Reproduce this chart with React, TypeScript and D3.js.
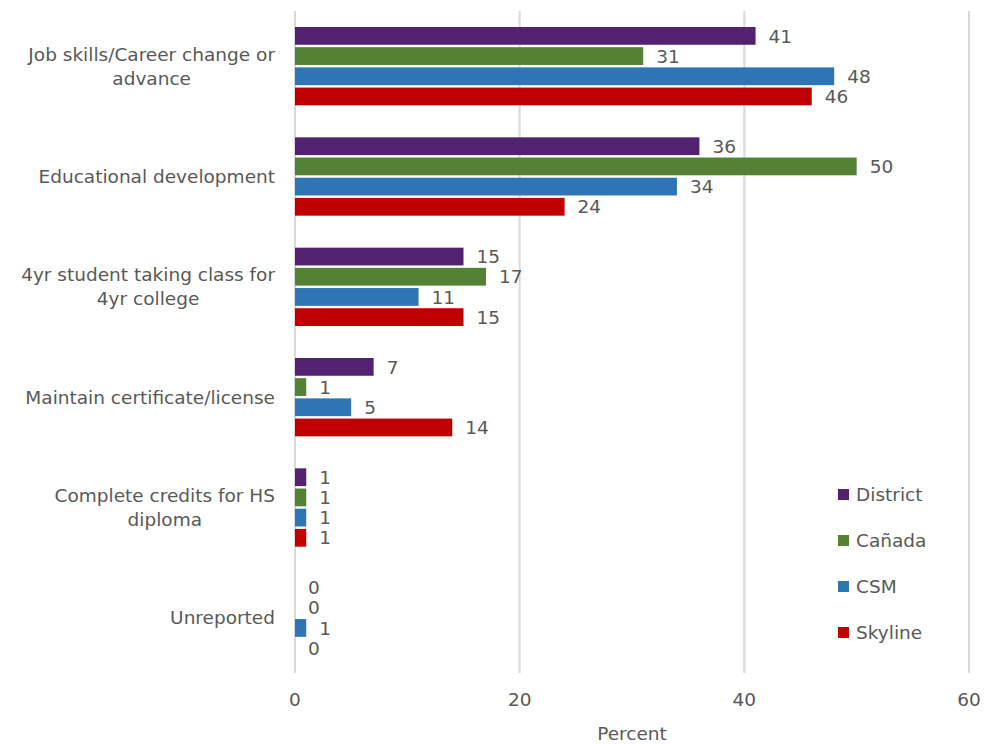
import React, { useEffect, useRef } from "react";
import * as d3 from "d3";

const categories = [
  "Job skills/Career change or advance",
  "Educational development",
  "4yr student taking class for 4yr college",
  "Maintain certificate/license",
  "Complete credits for HS diploma",
  "Unreported",
];
const categoryLines = [
  ["Job skills/Career change or", "advance"],
  ["Educational development"],
  ["4yr student taking class for", "4yr college"],
  ["Maintain certificate/license"],
  ["Complete credits for HS", "diploma"],
  ["Unreported"],
];
const seriesNames = ["District", "Cañada", "CSM", "Skyline"];
const seriesColors = ["#522270", "#548235", "#2E75B6", "#C00000"];
const district = [41, 36, 15, 7, 1, 0];
const canada = [31, 50, 17, 1, 1, 0];
const csm = [48, 34, 11, 5, 1, 1];
const skyline = [46, 24, 15, 14, 1, 0];
const xTicks = [0, 20, 40, 60];
const xTitle = "Percent";

const W = 984;
const H = 744;
const FONT = "'DejaVu Sans', sans-serif";
const FS = 18.5;
const TXT = "#595959";

export default function App() {
  const ref = useRef<SVGSVGElement>(null);
  useEffect(() => {
    const svg = d3.select(ref.current);
    svg.selectAll("*").remove();
    const series = [district, canada, csm, skyline];
    const left = 295, right = 969, top = 11, bottom = 673;
    const x = d3.scaleLinear().domain([0, 60]).range([left, right]);
    const y0 = d3.scaleBand<string>().domain(categories).range([top, bottom]).paddingInner(0.29).paddingOuter(0.145);
    const y1 = d3.scaleBand<string>().domain(seriesNames).range([0, y0.bandwidth()]).paddingInner(0.12).paddingOuter(0.0);

    // gridlines
    svg.append("g").selectAll("line").data(xTicks).join("line")
      .attr("x1", d => x(d)).attr("x2", d => x(d))
      .attr("y1", top).attr("y2", bottom)
      .attr("stroke", "#d9d9d9").attr("stroke-width", 2);

    // tick labels
    svg.append("g").selectAll("text").data(xTicks).join("text")
      .attr("x", d => x(d)).attr("y", 700).attr("dy", "0.35em")
      .attr("text-anchor", "middle")
      .attr("font-family", FONT).attr("font-size", FS).attr("fill", TXT)
      .text(d => String(d));

    svg.append("text").attr("x", (left + right) / 2).attr("y", 734).attr("dy", "0.35em")
      .attr("text-anchor", "middle").attr("font-family", FONT).attr("font-size", FS).attr("fill", TXT)
      .text(xTitle);

    // bars
    categories.forEach((c, ci) => {
      series.forEach((s, si) => {
        const v = s[ci];
        const yy = (y0(c) as number) + (y1(seriesNames[si]) as number);
        const h = y1.bandwidth();
        if (v > 0) {
          svg.append("rect").attr("x", x(0)).attr("y", yy)
            .attr("width", x(v) - x(0)).attr("height", h)
            .attr("fill", seriesColors[si]);
        }
        svg.append("text").attr("x", x(v) + 13).attr("y", yy + h / 2)
          .attr("dy", "0.36em")
          .attr("font-family", FONT).attr("font-size", FS).attr("fill", TXT)
          .text(String(v));
      });
    });

    // category labels
    categories.forEach((c, ci) => {
      const lines = categoryLines[ci];
      const cy = (y0(c) as number) + y0.bandwidth() / 2;
      const g = svg.append("g");
      const lh = 24;
      const texts = lines.map((ln, li) =>
        g.append("text")
          .attr("y", cy + (li - (lines.length - 1) / 2) * lh)
          .attr("dy", "0.35em")
          .attr("text-anchor", "middle")
          .attr("font-family", FONT).attr("font-size", FS).attr("fill", TXT)
          .text(ln)
      );
      const maxW = d3.max(texts, t => (t.node() as SVGTextElement).getComputedTextLength()) || 0;
      texts.forEach(t => t.attr("x", 275 - maxW / 2));
    });

    // legend
    seriesNames.forEach((n, i) => {
      const ly = 495 + i * 46;
      svg.append("rect").attr("x", 838).attr("y", ly - 6).attr("width", 11).attr("height", 11)
        .attr("fill", seriesColors[i]);
      svg.append("text").attr("x", 856).attr("y", ly).attr("dy", "0.35em")
        .attr("font-family", FONT).attr("font-size", FS).attr("fill", TXT)
        .text(n);
    });
  }, []);
  return (
    <svg ref={ref} width={W} height={H} style={{ position: "absolute", left: 0, top: 0, background: "#fff" }} />
  );
}
